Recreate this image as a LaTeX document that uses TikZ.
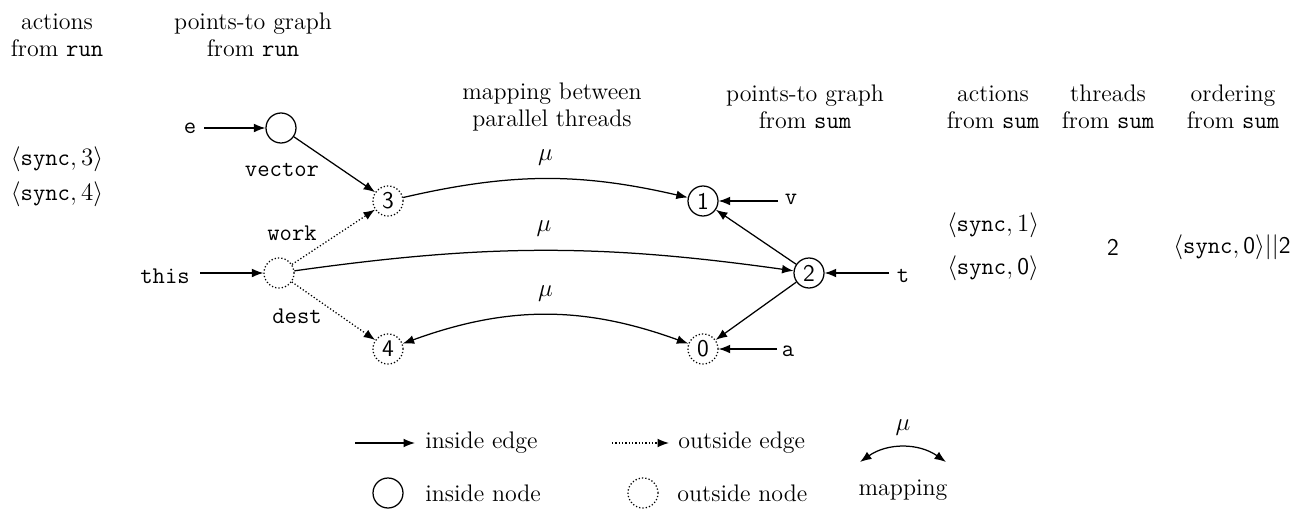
\documentclass[tikz,border=0pt]{standalone}
\usetikzlibrary{arrows.meta}
\begin{document}
\begin{tikzpicture}[x=0.48pt,y=-0.48pt,
  every node/.style={font=\fontsize{11.5pt}{13pt}\selectfont},
  nd/.style={circle,draw,semithick,minimum size=14.4pt,inner sep=0pt,font=\fontsize{11.5pt}{13pt}\sffamily},
  inn/.style={nd},
  outn/.style={nd,densely dotted},
  tip/.style={-{Latex[length=5.5pt,width=4.2pt]}},
  arr/.style={tip,semithick},
  darr/.style={tip,semithick,densely dotted},
  barr/.style={{Latex[length=5.5pt,width=4.2pt]}-{Latex[length=5.5pt,width=4.2pt]},semithick},
  hdr/.style={align=center,inner sep=0pt},
  lbl/.style={font=\fontsize{11.5pt}{13pt}\ttfamily,inner sep=1pt}]
\useasboundingbox (0,0) rectangle (1309,512);
% headers
\node[hdr] (h1) at (57,35) {actions\\from \texttt{run}};
\node[hdr] (h2) at (253,35) {points-to graph\\from \texttt{run}};
\node[hdr] (h3) at (552,107) {mapping between\\parallel threads};
\node[hdr] (h4) at (805,107) {points-to graph\\from \texttt{sum}};
\node[hdr] (h5) at (993,107) {actions\\from \texttt{sum}};
\node[hdr] (h6) at (1108,107) {threads\\from \texttt{sum}};
\node[hdr] (h7) at (1233,107) {ordering\\from \texttt{sum}};
% actions
\node (s3) at (57,159) {$\langle\texttt{sync},3\rangle$};
\node (s4) at (57,194) {$\langle\texttt{sync},4\rangle$};
\node (s1) at (993,225) {$\langle\texttt{sync},1\rangle$};
\node (s0) at (993,268) {$\langle\texttt{sync},\textsf{0}\rangle$};
\node (th) at (1113,247) {\textsf{2}};
\node (ord) at (1232,247) {$\langle\texttt{sync},\textsf{0}\rangle||\textsf{2}$};
% run graph
\node[inn] (vec) at (281,128) {};
\node[lbl] (e) at (190,128) {e};
\node[lbl] (vecl) at (282,170) {vector};
\node[outn] (n3) at (388,201) {3};
\node[outn] (thisn) at (279,273) {};
\node[lbl] (thisl) at (165,276) {this};
\node[lbl] (work) at (292,233) {work};
\node[lbl] (dest) at (297,316) {dest};
\node[outn] (n4) at (388,349) {4};
% sum graph
\node[inn] (n1) at (703,201) {1};
\node[inn] (n2) at (809,273) {2};
\node[outn] (n0) at (703,349) {0};
\node[lbl] (v) at (791,199) {v};
\node[lbl] (t) at (903,276) {t};
\node[lbl] (a) at (788,351) {a};
% arrow starts
\coordinate (eS) at (204,128);
\coordinate (thisS) at (200,273);
\coordinate (vS) at (778,201);
\coordinate (tS) at (889,273);
\coordinate (aS) at (777,349);
% edges
\draw[arr] (eS) -- (vec);
\draw[arr] (vec) -- (n3);
\draw[arr] (thisS) -- (thisn);
\draw[darr] (thisn) -- (n3);
\draw[darr] (thisn) -- (n4);
\draw[arr] (vS) -- (n1);
\draw[arr] (tS) -- (n2);
\draw[arr] (aS) -- (n0);
\draw[arr] (n2) -- (n1);
\draw[arr] (n2) -- (n0);
% mappings
\draw[arr] (n3) to[bend left=13] node[above=3pt] (m1) {$\mu$} (n1);
\draw[arr] (thisn) to[bend left=8] node[above=3pt] (m2) {$\mu$} (n2);
\draw[barr] (n4) to[bend left=20] node[above=3pt] (m3) {$\mu$} (n0);
% legend
\coordinate (la1) at (355,443);
\coordinate (la2) at (415,443);
\draw[arr] (la1) -- (la2);
\node[anchor=west,inner sep=0pt] (lt1) at (425,443) {inside edge};
\coordinate (lb1) at (612,443);
\coordinate (lb2) at (669,443);
\draw[darr] (lb1) -- (lb2);
\node[anchor=west,inner sep=0pt] (lt2) at (678,443) {outside edge};
\coordinate (lc1) at (860,462);
\coordinate (lc2) at (946,462);
\draw[barr] (lc1) to[bend left=35] node[above=2pt] (lm) {$\mu$} (lc2);
\node (lmap) at (903,490) {mapping};
\node[inn] (ln1) at (388,493) {};
\node[anchor=west,inner sep=0pt] (lt3) at (425,493) {inside node};
\node[outn] (ln2) at (643,493) {};
\node[anchor=west,inner sep=0pt] (lt4) at (677,493) {outside node};
\end{tikzpicture}
\end{document}
